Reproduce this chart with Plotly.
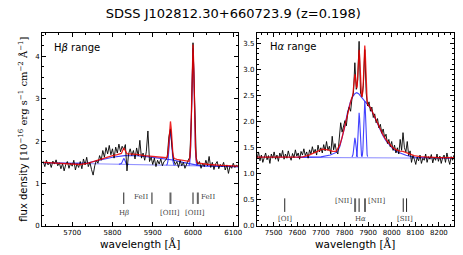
import plotly.graph_objects as go

TITLE = "SDSS J102812.30+660723.9 (z=0.198)"

# ---------------- H-beta range ----------------
HB_WAVE = [5628, 5632, 5636, 5640, 5644, 5648, 5652, 5656, 5660, 5664,
           5668, 5672, 5676, 5680, 5684, 5688, 5692, 5696, 5700, 5704,
           5708, 5712, 5716, 5720, 5724, 5728, 5732, 5736, 5740, 5744,
           5748, 5752, 5756, 5760, 5764, 5768, 5772, 5776, 5780, 5784,
           5788, 5792, 5796, 5800, 5804, 5808, 5812, 5816, 5820, 5824,
           5828, 5832, 5836, 5840, 5844, 5848, 5852, 5856, 5860, 5864,
           5868, 5872, 5876, 5880, 5884, 5888, 5892, 5896, 5900, 5904,
           5908, 5912, 5916, 5920, 5924, 5928, 5932, 5936, 5940, 5944,
           5948, 5952, 5956, 5960, 5964, 5968, 5972, 5976, 5980, 5984,
           5988, 5992, 5996, 6000, 6004, 6008, 6012, 6016, 6020, 6024,
           6028, 6032, 6036, 6040, 6044, 6048, 6052, 6056, 6060, 6064,
           6068, 6072, 6076, 6080, 6084, 6088, 6092, 6096, 6100, 6104,
           6108, 6112]
HB_FLUX = [1.52, 1.40, 1.55, 1.44, 1.50, 1.38, 1.53, 1.46, 1.56, 1.42,
           1.49, 1.35, 1.47, 1.30, 1.45, 1.52, 1.36, 1.48, 1.41, 1.55,
           1.32, 1.47, 1.38, 1.52, 1.35, 1.58, 1.44, 1.62, 1.40, 1.50,
           1.33, 1.20, 1.42, 1.55, 1.48, 1.66, 1.55, 1.78, 1.62, 1.85,
           1.70, 1.90, 1.68, 1.82, 1.60, 1.86, 1.72, 1.93, 1.75, 1.88,
           1.80, 1.92, 1.30, 1.70, 1.82, 1.66, 1.78, 1.58, 1.84, 1.65,
           2.02, 1.60, 1.72, 1.55, 1.75, 2.24, 1.52, 1.62, 1.45, 1.60,
           1.40, 1.55, 1.46, 1.58, 1.42, 1.52, 1.55, 1.62, 2.10, 2.29,
           1.85, 1.55, 1.45, 1.52, 1.38, 1.55, 1.42, 1.50, 1.36, 1.48,
           1.55, 1.62, 2.55, 4.32, 2.75, 1.62, 1.45, 1.52, 1.36, 1.48,
           1.40, 1.55, 1.42, 1.64, 1.38, 1.50, 1.33, 1.46, 1.52, 1.35,
           1.45, 1.40, 1.50, 1.32, 1.44, 1.24, 1.42, 1.36, 1.48, 1.38,
           1.44, 1.40]

HB_FIT_WAVE = [5628, 5650, 5680, 5700, 5720, 5740, 5760, 5780, 5800, 5812,
               5820, 5822, 5824, 5826, 5828, 5830, 5832, 5834, 5836, 5840,
               5860, 5880, 5900, 5920, 5930, 5934, 5936, 5938, 5940, 5942,
               5944, 5946, 5948, 5950, 5952, 5954, 5960, 5970, 5980, 5986,
               5990, 5992, 5994, 5996, 5998, 6000, 6002, 6004, 6006, 6008,
               6010, 6014, 6020, 6040, 6070, 6112]
HB_FIT = [1.50, 1.49, 1.46, 1.45, 1.45, 1.48, 1.54, 1.61, 1.66, 1.68,
          1.69, 1.71, 1.75, 1.81, 1.84, 1.81, 1.76, 1.72, 1.70, 1.70,
          1.69, 1.66, 1.64, 1.62, 1.61, 1.61, 1.635, 1.725, 1.96, 2.29,
          2.465, 2.285, 1.95, 1.705, 1.61, 1.59, 1.57, 1.555, 1.54, 1.53,
          1.525, 1.60, 1.89, 2.65, 3.73, 4.28, 3.72, 2.64, 1.87, 1.57,
          1.49, 1.48, 1.47, 1.45, 1.43, 1.41]

HB_CONT_WAVE = [5628, 6112]
HB_CONT = [1.49, 1.40]

HB_BROAD_WAVE = [5628, 5700, 5740, 5770, 5800, 5830, 5860, 5890, 5920, 5950,
                 5975, 6000, 6020, 6112]
HB_BROAD = [1.49, 1.477, 1.49, 1.55, 1.62, 1.66, 1.655, 1.63, 1.60, 1.555,
            1.50, 1.45, 1.418, 1.40]

HB_NHB_WAVE = [5816, 5820, 5822, 5824, 5826, 5828, 5830, 5832, 5834, 5836, 5840]
HB_NHB = [1.454, 1.457, 1.472, 1.51, 1.565, 1.593, 1.565, 1.51, 1.472, 1.457, 1.452]

HB_O3A_WAVE = [5934, 5936, 5938, 5940, 5942, 5944, 5946, 5948, 5950, 5952, 5954]
HB_O3A = [1.432, 1.456, 1.546, 1.78, 2.11, 2.28, 2.11, 1.78, 1.546, 1.456, 1.430]

HB_O3B_WAVE = [5990, 5992, 5994, 5996, 5998, 6000, 6002, 6004, 6006, 6008, 6010]
HB_O3B = [1.422, 1.50, 1.795, 2.557, 3.637, 4.19, 3.637, 2.557, 1.795, 1.50, 1.420]

HB_MARK_THIN = [5828, 5898, 6000]
HB_MARK_THICK = [5944, 6012]
HB_LABELS = [("H<i>β</i>", 5828, 0.31, "center"), ("FeII", 5894, 0.69, "right"),
             ("[OIII]", 5944, 0.31, "center"), ("[OIII]", 6006, 0.31, "center"),
             ("FeII", 6016, 0.69, "left")]

# ---------------- H-alpha range ----------------
HA_WAVE = [7430, 7436, 7442, 7448, 7454, 7460, 7466, 7472, 7478, 7484,
           7490, 7496, 7502, 7508, 7514, 7520, 7526, 7532, 7538, 7544,
           7550, 7556, 7562, 7568, 7574, 7580, 7586, 7592, 7598, 7604,
           7610, 7616, 7622, 7628, 7634, 7640, 7646, 7652, 7658, 7664,
           7670, 7676, 7682, 7688, 7694, 7700, 7706, 7712, 7718, 7724,
           7730, 7736, 7742, 7748, 7754, 7760, 7766, 7772, 7778, 7784,
           7790, 7796, 7802, 7808, 7814, 7820, 7826, 7832, 7838, 7844,
           7850, 7856, 7862, 7868, 7874, 7880, 7886, 7892, 7898, 7904,
           7910, 7916, 7922, 7928, 7934, 7940, 7946, 7952, 7958, 7964,
           7970, 7976, 7982, 7988, 7994, 8000, 8006, 8012, 8018, 8024,
           8030, 8036, 8042, 8048, 8054, 8060, 8066, 8072, 8078, 8084,
           8090, 8096, 8102, 8108, 8114, 8120, 8126, 8132, 8138, 8144,
           8150, 8156, 8162, 8168, 8174, 8180, 8186, 8192, 8198, 8204,
           8210, 8216, 8222, 8228, 8234, 8240, 8246, 8252, 8258, 8264]
HA_FLUX = [1.30, 1.42, 1.25, 1.36, 1.22, 1.33, 1.40, 1.27, 1.35, 1.20,
           1.38, 1.30, 1.42, 1.28, 1.36, 1.24, 1.40, 1.32, 1.45, 1.28,
           1.38, 1.30, 1.44, 1.33, 1.26, 1.39, 1.31, 1.46, 1.34, 1.40,
           1.28, 1.43, 1.36, 1.48, 1.35, 1.42, 1.30, 1.46, 1.38, 1.52,
           1.40, 1.47, 1.36, 1.55, 1.42, 1.50, 1.40, 1.56, 1.44, 1.62,
           1.45, 1.53, 1.38, 1.72, 1.46, 1.58, 1.43, 1.38, 1.62, 1.98,
           1.80, 1.95, 2.02, 1.92, 2.18, 2.28, 2.20, 2.45, 2.55, 3.13,
           2.62, 2.80, 3.54, 2.55, 2.48, 2.70, 3.38, 2.55, 2.30, 2.38,
           2.20, 2.28, 2.08, 2.15, 1.98, 2.06, 1.88, 1.95, 1.78, 1.86,
           1.70, 1.76, 1.58, 1.66, 1.52, 1.62, 1.45, 1.55, 1.40, 1.50,
           1.38, 1.66, 1.45, 1.79, 1.50, 1.42, 1.62, 1.35, 1.44, 1.22,
           1.35, 1.28, 1.18, 1.32, 1.25, 1.36, 1.20, 1.30, 1.26, 1.38,
           1.22, 1.33, 1.28, 1.37, 1.21, 1.32, 1.26, 1.38, 1.24, 1.34,
           1.20, 1.31, 1.36, 1.22, 1.40, 1.28, 1.18, 1.33, 1.26, 1.36]

HA_FIT_WAVE = [7430, 7500, 7560, 7620, 7650, 7680, 7706, 7730, 7750, 7765,
               7780, 7790, 7800, 7812, 7820, 7826, 7830, 7832, 7834, 7836,
               7838, 7840, 7842, 7844, 7846, 7848, 7850, 7852, 7854, 7856,
               7858, 7860, 7862, 7864, 7866, 7868, 7870, 7872, 7874, 7876,
               7878, 7880, 7882, 7884, 7886, 7888, 7890, 7892, 7894, 7896,
               7898, 7900, 7910, 7922, 7935, 7950, 7962, 7975, 7990, 8005,
               8020, 8035, 8048, 8060, 8075, 8095, 8120, 8160, 8200, 8264]
HA_FIT = [1.32, 1.32, 1.32, 1.32, 1.36, 1.43, 1.475, 1.46, 1.43, 1.43,
          1.55, 1.70, 1.90, 2.16, 2.30, 2.38, 2.44, 2.455, 2.49, 2.54,
          2.62, 2.74, 2.86, 2.91, 2.87, 2.78, 2.67, 2.64, 2.68, 2.82,
          3.06, 3.28, 3.38, 3.27, 3.03, 2.77, 2.60, 2.51, 2.47, 2.50,
          2.58, 2.77, 3.07, 3.35, 3.46, 3.32, 3.02, 2.70, 2.49, 2.39,
          2.34, 2.32, 2.27, 2.15, 2.02, 1.86, 1.76, 1.66, 1.57, 1.50,
          1.46, 1.435, 1.43, 1.41, 1.38, 1.35, 1.33, 1.32, 1.31, 1.31]

HA_CONT_WAVE = [7430, 8264]
HA_CONT = [1.32, 1.30]

HA_BROAD_WAVE = [7600, 7700, 7740, 7770, 7780, 7790, 7800, 7812, 7825, 7835,
                 7845, 7852, 7860, 7870, 7880, 7890, 7900, 7910, 7922, 7935,
                 7950, 7962, 7975, 7990, 8005, 8020, 8040, 8060, 8080, 8100, 8264]
HA_BROAD = [1.316, 1.325, 1.36, 1.42, 1.52, 1.68, 1.88, 2.16, 2.38, 2.48,
            2.54, 2.555, 2.535, 2.48, 2.43, 2.37, 2.32, 2.26, 2.14, 2.00,
            1.84, 1.74, 1.64, 1.55, 1.48, 1.43, 1.385, 1.355, 1.335, 1.318, 1.30]

HA_N2A_WAVE = [7832, 7834, 7836, 7838, 7840, 7842, 7844, 7846, 7848, 7850, 7852, 7854, 7856]
HA_N2A = [1.324, 1.336, 1.37, 1.438, 1.546, 1.646, 1.69, 1.646, 1.546, 1.438, 1.37, 1.336, 1.324]
HA_NHA_WAVE = [7850, 7852, 7854, 7856, 7858, 7860, 7862, 7864, 7866, 7868, 7870, 7872, 7874]
HA_NHA = [1.331, 1.357, 1.435, 1.592, 1.839, 2.068, 2.17, 2.068, 1.839, 1.592, 1.435, 1.357, 1.331]
HA_N2B_WAVE = [7874, 7876, 7878, 7880, 7882, 7884, 7886, 7888, 7890, 7892, 7894, 7896, 7898]
HA_N2B = [1.332, 1.367, 1.464, 1.662, 1.973, 2.262, 2.39, 2.262, 1.973, 1.662, 1.464, 1.367, 1.332]

HA_MARK_THIN = [7547, 7862, 8049, 8063]
HA_MARK_THICK = [7845, 7887]
HA_LABELS = [("[OI]", 7547, 0.13, "center"), ("[NII]", 7839, 0.47, "right"),
             ("H<i>α</i>", 7869, 0.13, "center"), ("[NII]", 7892, 0.47, "left"),
             ("[SII]", 8056, 0.13, "center")]

SANS = "DejaVu Sans"
SERIF = "DejaVu Serif"
BLUE_LIGHT = "rgba(60,60,255,0.55)"
BLUE = "rgba(20,20,255,0.8)"

fig = go.Figure()


def add_panel(xa, ya, wave, flux, fit_w, fit, comps):
    for i, (cw, cv) in enumerate(comps):
        col = BLUE_LIGHT if i == 0 else BLUE
        fig.add_trace(go.Scatter(x=cw, y=cv, mode="lines", xaxis=xa, yaxis=ya,
                                 line=dict(color=col, width=1.1), showlegend=False,
                                 hoverinfo="skip"))
    fig.add_trace(go.Scatter(x=wave, y=flux, mode="lines", xaxis=xa, yaxis=ya,
                             line=dict(color="black", width=0.9), showlegend=False))
    fig.add_trace(go.Scatter(x=fit_w, y=fit, mode="lines", xaxis=xa, yaxis=ya,
                             line=dict(color="rgba(235,0,0,0.85)", width=1.3),
                             showlegend=False))


add_panel("x", "y", HB_WAVE, HB_FLUX, HB_FIT_WAVE, HB_FIT,
          [(HB_CONT_WAVE, HB_CONT), (HB_BROAD_WAVE, HB_BROAD), (HB_NHB_WAVE, HB_NHB),
           (HB_O3A_WAVE, HB_O3A), (HB_O3B_WAVE, HB_O3B)])
add_panel("x2", "y2", HA_WAVE, HA_FLUX, HA_FIT_WAVE, HA_FIT,
          [(HA_CONT_WAVE, HA_CONT), (HA_BROAD_WAVE, HA_BROAD), (HA_N2A_WAVE, HA_N2A),
           (HA_NHA_WAVE, HA_NHA), (HA_N2B_WAVE, HA_N2B)])

shapes = []
annotations = []


def markers(xr, yr, thin, thick, y0, y1, labels):
    for w in thin:
        shapes.append(dict(type="line", xref=xr, yref=yr, x0=w, x1=w, y0=y0, y1=y1,
                           line=dict(color="#222", width=1)))
    for w in thick:
        shapes.append(dict(type="line", xref=xr, yref=yr, x0=w, x1=w, y0=y0, y1=y1,
                           line=dict(color="#666", width=2)))
    for txt, w, yv, anchor in labels:
        annotations.append(dict(text=txt, x=w, y=yv, xref=xr, yref=yr, showarrow=False,
                                xanchor=anchor, yanchor="middle",
                                font=dict(family=SERIF, size=7, color="#444")))


markers("x", "y", HB_MARK_THIN, HB_MARK_THICK, 0.52, 0.79, HB_LABELS)
markers("x2", "y2", HA_MARK_THIN, HA_MARK_THICK, 0.27, 0.53, HA_LABELS)

annotations.append(dict(text="H<i>β</i> range", x=5650, y=4.2, xref="x", yref="y",
                        showarrow=False, xanchor="left", yanchor="middle",
                        font=dict(family=SANS, size=10, color="black")))
annotations.append(dict(text="H<i>α</i> range", x=7475, y=3.45, xref="x2", yref="y2",
                        showarrow=False, xanchor="left", yanchor="middle",
                        font=dict(family=SANS, size=10, color="black")))

xt = 'wavelength <span style="font-family:DejaVu Serif">[Å]</span>'
annotations.append(dict(text=xt, x=0.238, y=-0.093, xref="paper", yref="paper",
                        showarrow=False, xanchor="center", yanchor="middle",
                        font=dict(family=SANS, size=10.5, color="black")))
annotations.append(dict(text=xt, x=0.760, y=-0.093, xref="paper", yref="paper",
                        showarrow=False, xanchor="center", yanchor="middle",
                        font=dict(family=SANS, size=10.5, color="black")))
yt = ('flux density <span style="font-family:DejaVu Serif">[10<sup>−16</sup> erg s<sup>−1</sup> '
      'cm<sup>−2</sup> Å<sup>−1</sup>]</span>')
annotations.append(dict(text=yt, x=-0.048, y=0.5, xref="paper", yref="paper",
                        showarrow=False, xanchor="center", yanchor="middle", textangle=-90,
                        font=dict(family=SANS, size=10, color="black")))

axis_common = dict(showline=True, linecolor="black", linewidth=1, mirror="allticks",
                   ticks="inside", ticklen=4, tickwidth=1, tickcolor="black",
                   showgrid=False, zeroline=False,
                   tickfont=dict(family=SANS, size=7, color="black"))

fig.update_layout(
    width=463, height=255,
    margin=dict(l=42, r=5, t=33, b=29),
    paper_bgcolor="white", plot_bgcolor="white",
    hovermode=False,
    title=dict(text=TITLE, x=0.504, xanchor="center", y=0.947, yanchor="middle",
               font=dict(family=SANS, size=13, color="black")),
    xaxis=dict(domain=[0, 0.476], range=[5625, 6112], dtick=100, tick0=5600,
               minor=dict(ticks="inside", ticklen=2, dtick=100 / 3, tick0=5600,
                          tickcolor="black", showgrid=False),
               anchor="y", **axis_common),
    yaxis=dict(domain=[0, 1], range=[0, 4.55], dtick=1, tick0=0,
               minor=dict(ticks="inside", ticklen=2, dtick=0.25, tick0=0,
                          tickcolor="black", showgrid=False),
               anchor="x", **axis_common),
    xaxis2=dict(domain=[0.5216, 1], range=[7429, 8264], dtick=100, tick0=7500,
                minor=dict(ticks="inside", ticklen=2, dtick=25, tick0=7500,
                           tickcolor="black", showgrid=False),
                anchor="y2", **axis_common),
    yaxis2=dict(domain=[0, 1], range=[0, 3.7], dtick=0.5, tick0=0, tickformat=".1f",
                minor=dict(ticks="inside", ticklen=2, dtick=0.1, tick0=0,
                           tickcolor="black", showgrid=False),
                anchor="x2", **axis_common),
    shapes=shapes, annotations=annotations,
)

fig.write_html("out.html", config={"displayModeBar": False, "staticPlot": True},
               post_script="document.body.style.margin='0px';")
